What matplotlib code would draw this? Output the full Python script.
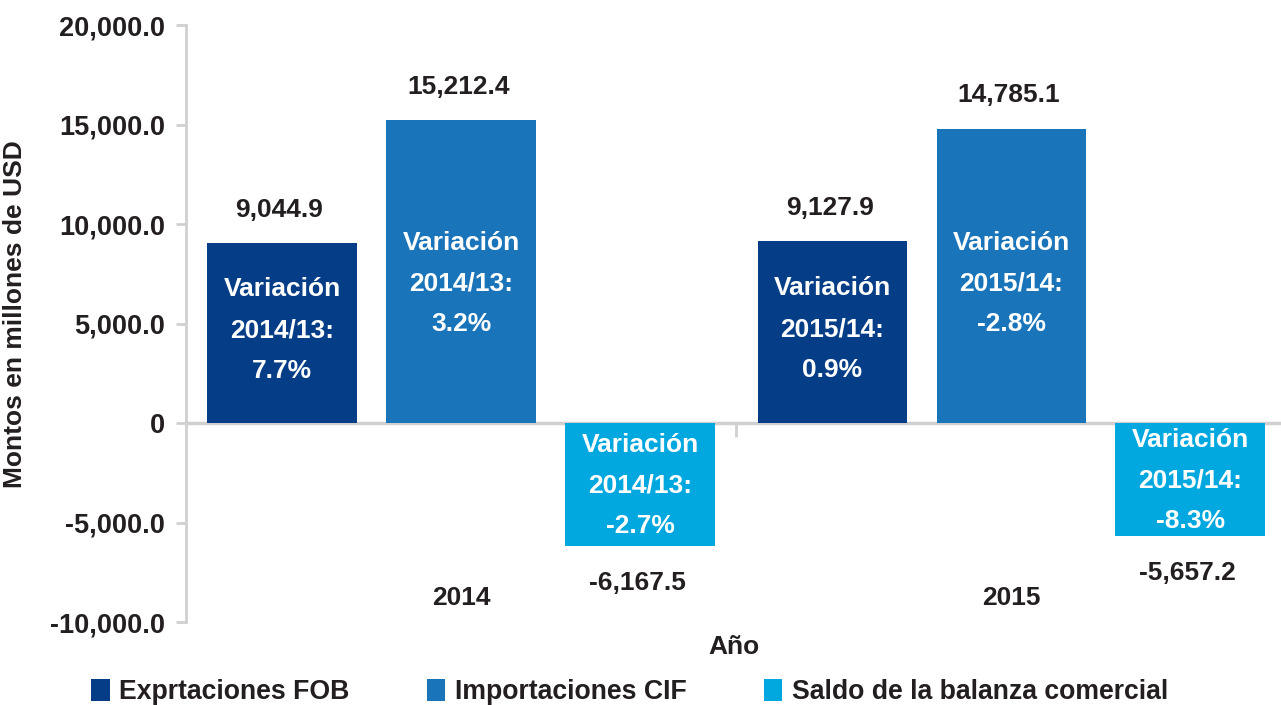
import matplotlib
matplotlib.use('Agg')
import matplotlib.pyplot as plt
import numpy as np

plt.rcParams['font.family'] = ['Liberation Sans', 'DejaVu Sans']
plt.rcParams['font.weight'] = 'bold'

# datos
anios = ['2014', '2015']
series = ['Exprtaciones FOB', 'Importaciones CIF', 'Saldo de la balanza comercial']
exportaciones = [9044.9, 9127.9]
importaciones = [15212.4, 14785.1]
saldo = [-6167.5, -5657.2]
var_exp = ['7.7%', '0.9%']
var_imp = ['3.2%', '-2.8%']
var_saldo = ['-2.7%', '-8.3%']
periodos = ['2014/13:', '2015/14:']
colores = ['#063d87', '#1a74ba', '#00a8df']
texto = '#231f20'
gris = '#d0d0d0'

fig = plt.figure(figsize=(12.81, 7.05), dpi=100)
ax = fig.add_axes([0.1452, 0.1177, 0.8548, 0.8468])

x = np.arange(len(anios))
ancho = 0.272
paso = 0.325
valores = [exportaciones, importaciones, saldo]
variaciones = [var_exp, var_imp, var_saldo]

for i, (vals, vars_, col, nombre) in enumerate(zip(valores, variaciones, colores, series)):
    pos = x + (i - 1) * paso
    ax.bar(pos, vals, width=ancho, color=col, label=nombre)
    for xb, v, var, per in zip(pos, vals, vars_, periodos):
        # etiqueta de valor
        off = 24 if v > 0 else -27
        ax.annotate(f'{v:,.1f}', (xb, v), xytext=(-2, off), textcoords='offset points',
                    ha='center', va='center', fontsize=19, fontweight='bold', color=texto)
        # texto de variacion dentro de la barra
        yt = min(v / 2 + 150, 7000) if v > 0 else v / 2 - 60
        ax.text(xb, yt, f'Variación\n{per}\n{var}', ha='center', va='center',
                fontsize=19, fontweight='bold', color='white', linespacing=1.88)

ax.set_xlim(-0.5, 1.49)
ax.set_ylim(-10000, 20000)
ax.set_yticks(np.arange(-10000, 20001, 5000))
ax.yaxis.set_major_formatter(matplotlib.ticker.FuncFormatter(
    lambda v, p: '0' if v == 0 else f'{v:,.1f}'))

for s in ['top', 'right']:
    ax.spines[s].set_visible(False)
ax.spines['left'].set_color(gris)
ax.spines['left'].set_linewidth(2)
ax.spines['bottom'].set_position(('data', 0))
ax.spines['bottom'].set_color(gris)
ax.spines['bottom'].set_linewidth(2.5)
ax.spines['bottom'].set_zorder(0)

ax.tick_params(axis='y', length=7, width=2, color=gris, labelsize=19.5, labelcolor=texto, pad=8)
ax.set_xticks(x, anios)
ax.set_xticks([0.5], minor=True)
ax.tick_params(axis='x', which='major', length=0, pad=117, labelsize=19, labelcolor=texto)
ax.tick_params(axis='x', which='minor', length=10, width=2, color=gris)
for lab in ax.get_xticklabels() + ax.get_yticklabels():
    lab.set_fontweight('bold')

ax.set_xlabel('Año', fontsize=19, fontweight='bold', color=texto, labelpad=18)
ax.set_ylabel('Montos en millones de USD', fontsize=19, fontweight='bold', color=texto)
ax.yaxis.set_label_coords(-0.145, 0.515)

fig.legend(loc='center left', bbox_to_anchor=(0.071, 0.018), ncol=3, frameon=False,
           handlelength=0.7, handleheight=0.9, handletextpad=0.35,
           columnspacing=2.9, borderpad=0, borderaxespad=0, labelcolor=texto,
           prop={'weight': 'bold', 'size': 19.2})

fig.savefig('out.png', dpi=100)
